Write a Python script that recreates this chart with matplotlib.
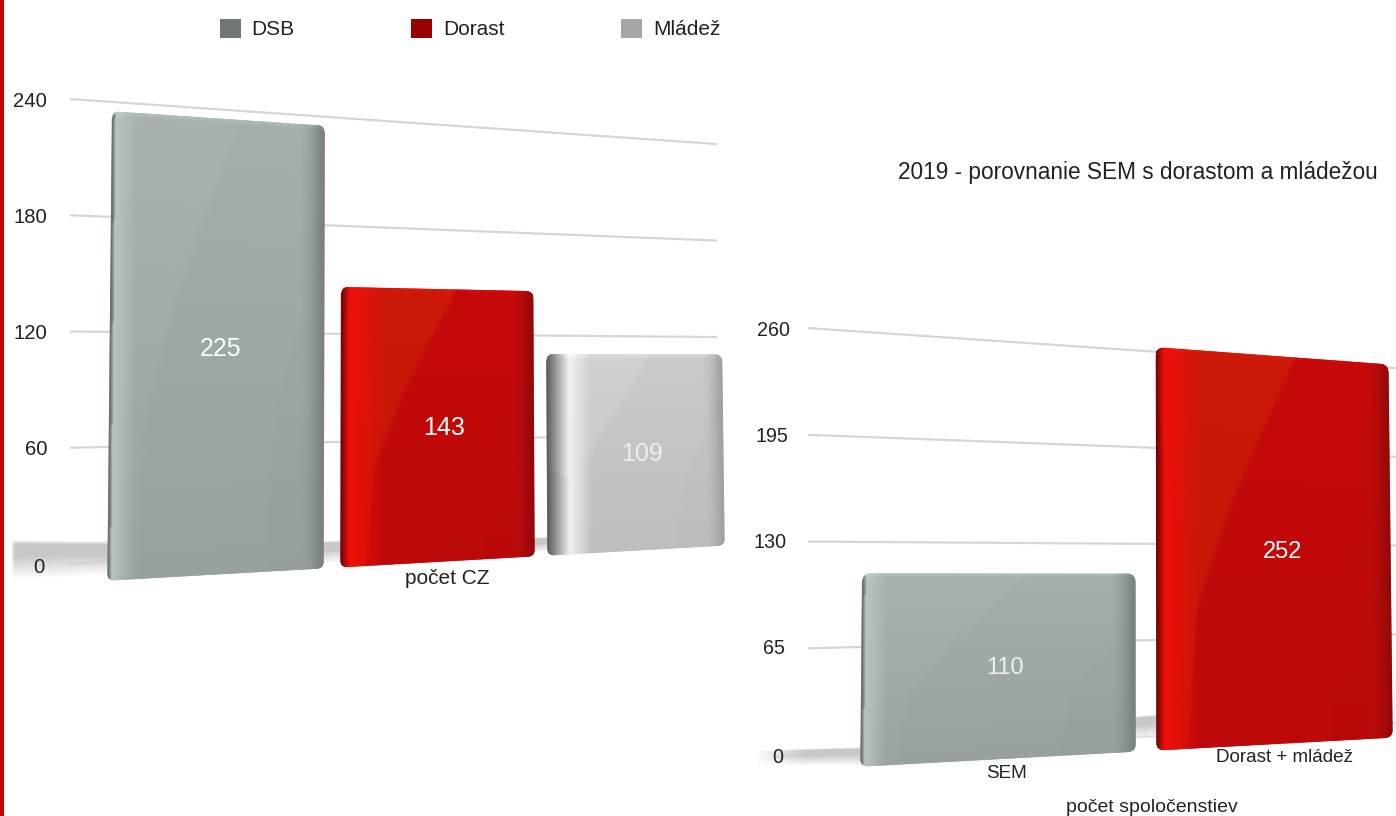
import numpy as np
import matplotlib
matplotlib.use("Agg")
import matplotlib.pyplot as plt
from matplotlib.collections import LineCollection
from matplotlib.patches import Patch, Rectangle
from matplotlib.transforms import Transform

# ---------- data ----------
left_series = ["DSB", "Dorast", "Mládež"]
left_values = [225, 143, 109]
left_category = "počet CZ"
left_ticks = [0, 60, 120, 180, 240]

right_categories = ["SEM", "Dorast + mládež"]
right_values = [110, 252]
right_ticks = [0, 65, 130, 195, 260]
right_title = "2019 - porovnanie SEM s dorastom a mládežou"
right_xlabel = "počet spoločenstiev"

# ---------- styles ----------
GRAY = dict(A=(167, 178, 174), B=(164, 175, 171), L0=(92, 106, 102), L1=(182, 195, 190), lw=4, lw2=22,
            R0=(118, 130, 126), R1=(150, 161, 157), rw=24, top=1.0, bottom=0.92, blur=10, f2=0.012)
RED = dict(A=(204, 24, 8), B=(197, 9, 10), L0=(110, 5, 5), L1=(238, 14, 8), lw=8, lw2=34,
           R0=(150, 8, 8), R1=(180, 14, 14), rw=22, top=1.0, bottom=0.96, blur=4, f2=0.02)
LIGHT = dict(A=(206, 206, 206), B=(200, 200, 200), L0=(92, 92, 92), L1=(240, 240, 240), lw=22, lw2=22,
             R0=(160, 160, 160), R1=(192, 192, 192), rw=20, top=1.01, bottom=0.95, blur=8, f2=0.012)
GRID = "#d6d6d6"
TXT = "#222222"
plt.rcParams["font.family"] = ["Liberation Sans", "DejaVu Sans"]


class Persp(Transform):
    """Perspective plane: (x pixel, value) -> (x pixel, y pixel)."""
    input_dims = output_dims = 2

    def __init__(self, x0, y0, s0, x1, y1, s1, xv=0.0, k=0.0):
        super().__init__()
        self.p = (x0, y0, s0, x1, y1, s1, xv, k)

    def transform_non_affine(self, xy):
        xy = np.asarray(xy, float)
        x0, y0, s0, x1, y1, s1, xv, k = self.p
        x, v = xy[:, 0], xy[:, 1]
        t = (x - x0) / (x1 - x0)
        return np.column_stack([x + (xv - x) * k * v, y0 + (y1 - y0) * t - v * (s0 + (s1 - s0) * t)])


fig = plt.figure(figsize=(13.96, 8.16), dpi=100, facecolor="white")
ax = fig.add_axes([0, 0, 1, 1])
ax.set_xlim(0, 1396)
ax.set_ylim(816, 0)
ax.axis("off")
ax.set_autoscale_on(False)

left_grid = Persp(70, 564, 1.9375, 717, 530, 1.608) + ax.transData
right_grid = Persp(808, 755, 1.642, 1396, 723, 1.365) + ax.transData
left_front = Persp(108, 580, 2.08, 722, 545, 1.742, 400, 7.0e-5) + ax.transData
right_front = Persp(861, 766, 1.745, 1392, 737, 1.476, 1120, 6.0e-5) + ax.transData
left_lab = Persp(47, 565, 1.933, 45, 565, 1.933) + ax.transData
right_lab = Persp(784, 754, 1.63, 783, 754, 1.63) + ax.transData


def shadow(x0, x1, t0, t1, b0, b1, fade=0, level=200):
    xs = np.linspace(x0, x1, int(x1 - x0) * 3 + 1)
    fs = np.linspace(0, 1, int(max(b0, b1) - min(t0, t1)) * 3 + 1)
    X = np.outer(np.ones_like(fs), xs)
    F = np.outer(fs, np.ones_like(xs))
    Y = (t0 + (t1 - t0) * (X - x0) / (x1 - x0)) * (1 - F) + (b0 + (b1 - b0) * (X - x0) / (x1 - x0)) * F
    xc = 0.5 * (xs[1:] + xs[:-1])
    fc = 0.5 * (fs[1:] + fs[:-1])
    prof = np.clip(fc * 10, 0, 1) * np.clip((1 - fc) / 0.6, 0, 1)
    a = np.outer(prof, np.ones_like(xc))
    if fade:
        a = a * np.clip((xc - x0) / fade, 0, 1)
    C = np.zeros(a.shape + (4,))
    C[..., :3] = level / 255
    C[..., 3] = a
    ax.pcolormesh(X, Y, C, shading="flat", antialiased=False, zorder=2)


def bar_colors(u, f, W, st):
    A, B = np.array(st["A"], float), np.array(st["B"], float)
    b = np.interp(f, [0, .35, .62, 1], [.13, .17, .32, .6])
    m = np.clip((u - b) * W / st["blur"] + .5, 0, 1)[..., None]
    col = A * (1 - m) + B * m
    b2 = b + .60
    m2 = np.clip((u - b2) * W / 8 + .5, 0, 1)[..., None]
    col = col * (1 - st["f2"] * m2)
    col = col * np.interp(f, [0, 1], [st["bottom"], st["top"]])[..., None]
    d = u * W
    L0, L1 = np.array(st["L0"], float), np.array(st["L1"], float)
    k = np.clip(d / st["lw"], 0, 1)[..., None]
    lc = L0 * (1 - k) + L1 * k
    k2 = np.clip((d - st["lw"]) / st["lw2"], 0, 1)[..., None]
    col = lc * (1 - k2) + col * k2
    e = (1 - u) * W
    R0, R1 = np.array(st["R0"], float), np.array(st["R1"], float)
    k3 = np.clip(e / st["rw"], 0, 1)[..., None]
    rc = R0 * (1 - k3) + R1 * k3
    k4 = np.clip((st["rw"] - e) / st["rw"] * 1.2, 0, 1)[..., None]
    col = col * (1 - k4) + rc * k4
    return np.clip(col, 0, 255) / 255


def edge(X, V, colors, trans):
    pts = np.column_stack([X, V])
    segs = np.stack([pts[:-1], pts[1:]], axis=1)
    ax.add_collection(LineCollection(segs, colors=colors, linewidths=1.0, transform=trans,
                                     zorder=3.2, capstyle="round"), autolim=False)


def bar(trans, x0, x1, value, st, s, r=6):
    W = x1 - x0
    us = np.linspace(0, 1, int(W) + 1)
    fs = np.linspace(0, 1, int(value * s / 2) + 1)
    d = np.minimum(us, 1 - us) * W
    drop = np.where(d < r, r - np.sqrt(np.clip(r ** 2 - (r - d) ** 2, 0, None)), 0.0) / s
    vt = value - drop
    vb = drop * 0.8
    U, F = np.meshgrid(us, fs)
    X = x0 + U * W
    V = vb[None, :] * (1 - F) + vt[None, :] * F
    uc, fc = 0.5 * (us[1:] + us[:-1]), 0.5 * (fs[1:] + fs[:-1])
    Uc, Fc = np.meshgrid(uc, fc)
    C = bar_colors(Uc, Fc, W, st)
    rim = np.clip(1 - (1 - Fc) * value * s / 4, 0, 1)[..., None]
    C = np.clip(C * (1 + 0.06 * rim), 0, 1)
    ax.pcolormesh(X, V, C, shading="flat", antialiased=False, transform=trans, zorder=3)
    edge(X[:, 0], V[:, 0], C[:, 0], trans)
    edge(X[:, -1], V[:, -1], C[:, -1], trans)
    edge(X[-1, :], V[-1, :], C[-1, :], trans)
    edge(X[0, :], V[0, :], C[0, :], trans)


# red page border
ax.add_patch(Rectangle((0, 0), 4, 816, color="#c60000", lw=0, zorder=1))

# grid lines
for v in left_ticks:
    ax.plot([66 if v == 0 else 70, 717], [v, v], color="#e6e6e6" if v == 0 else GRID, lw=1.6,
            transform=left_grid, zorder=1, solid_capstyle="butt")
    ax.text(47 if v else 45, v if v else -1.5, str(v), ha="right", va="center", fontsize=14.6, color=TXT,
            transform=left_lab, zorder=5)
for v in right_ticks:
    ax.plot([776 if v == 0 else 808, 1396], [v, v], color="#e6e6e6" if v == 0 else GRID, lw=1.6,
            transform=right_grid, zorder=1, solid_capstyle="butt")
    ax.text(790 - (260 - v) * 6 / 260 if v else 783, v if v else -2.4, str(v), ha="right", va="center",
            fontsize=14.2, color=TXT, transform=right_lab, zorder=5)

# floor shadows
shadow(11, 110, 540, 541, 580, 575, fade=4)
shadow(323, 342, 541, 540, 564, 562)
shadow(534, 549, 537, 537, 553, 551)
shadow(755, 862, 750, 747, 766, 766, fade=50)
shadow(1134, 1158, 716, 714, 740, 738)

# bars
left_edges = [(108, 323), (341, 534), (548, 724)]
left_styles = [GRAY, RED, LIGHT]
left_scale = [2.0, 1.9, 1.8]
left_white = ["white", "white", "#eeeeee"]
left_text_frac = [0.515, 0.534, 0.54]
for (a, b), val, st, s, wc, tf in zip(left_edges, left_values, left_styles, left_scale, left_white, left_text_frac):
    bar(left_front, a, b, val, st, s)
    ax.text(a + (b - a) * tf, val / 2 - 1.2, str(val), color=wc, fontsize=18, ha="center", va="center",
            transform=left_front, zorder=6)

right_edges = [(861, 1135), (1157, 1392)]
right_styles = [GRAY, RED]
right_scale = [1.68, 1.53]
right_white = ["#eeeeee", "white"]
right_text_frac = [0.525, 0.54]
for (a, b), val, st, s, wc, tf in zip(right_edges, right_values, right_styles, right_scale, right_white, right_text_frac):
    bar(right_front, a, b, val, st, s, r=7)
    ax.text(a + (b - a) * tf, val / 2 - 1.2, str(val), color=wc, fontsize=17, ha="center", va="center",
            transform=right_front, zorder=6)

# category labels and titles
ax.text(447, 578.5, left_category, ha="center", va="center", fontsize=15, color=TXT, zorder=6)
ax.text(1006, 773.5, right_categories[0], ha="center", va="center", fontsize=13.6, color=TXT, zorder=6)
ax.text(1285, 758, right_categories[1], ha="center", va="center", fontsize=13.6, color=TXT, zorder=6)
ax.text(1152, 808, right_xlabel, ha="center", va="center", fontsize=14, color=TXT, zorder=6)
ax.text(1138, 173, right_title, ha="center", va="center", fontsize=16.3, color=TXT, zorder=6)

# legend
handles = [Patch(facecolor=c, edgecolor="none", label=n)
           for c, n in zip(["#6f7873", "#990000", "#a6a6a6"], left_series)]
ax.legend(handles=handles, ncol=3, loc="upper left", bbox_to_anchor=(220, 19), bbox_transform=ax.transData,
          frameon=False, fontsize=15, handlelength=1.0, handleheight=1.0, handletextpad=0.52,
          columnspacing=5.6, borderpad=0, borderaxespad=0, labelcolor=TXT)

fig.savefig("out.png", dpi=100)
